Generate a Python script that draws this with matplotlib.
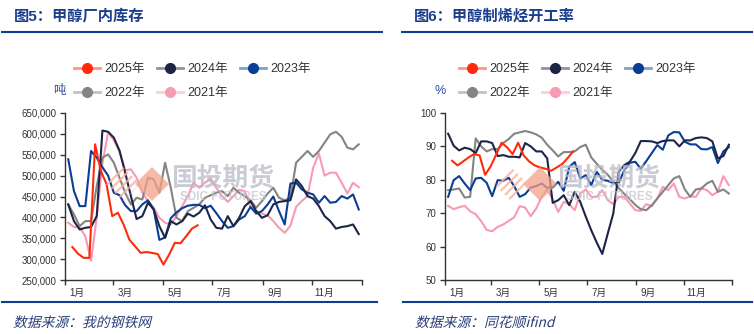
import pandas as pd
import numpy as np
import matplotlib
matplotlib.use("Agg")
import matplotlib.pyplot as plt
import matplotlib.ticker as mticker
from matplotlib.lines import Line2D
from matplotlib.patches import Polygon, PathPatch
from matplotlib.textpath import TextPath
from matplotlib.font_manager import FontProperties
from matplotlib.transforms import Affine2D

plt.rcParams['font.family'] = ['Liberation Sans', 'Noto Sans CJK SC']
plt.rcParams['hatch.linewidth'] = 1.6

W, H = 754, 334

years = ["2025年", "2024年", "2023年", "2022年", "2021年"]
colors = ["#ff2b0c", "#1d2546", "#0a3d94", "#848484", "#f89ab3"]
first_dates = ["2025-01-10", "2024-01-05", "2023-01-05", "2022-01-05", "2021-01-05"]
month_labels = ["1月", "3月", "5月", "7月", "9月", "11月"]

# 甲醇厂内库存, 千吨 (weekly)
inv_2025 = [329, 313, 303, 303, 575, 511, 480, 403, 411, 383, 347, 331, 315, 317, 315,
            312, 287, 311, 339, 338, 355, 373, 381]
inv_2024 = [431, 391, 371, 375, 377, 403, 608, 605, 591, 560, 507, 451, 396, 403, 435,
            419, 379, 351, 391, 383, 391, 409, 402, 411, 429, 395, 375, 373, 403, 379,
            399, 427, 439, 415, 399, 405, 431, 437, 439, 441, 491, 475, 451, 445, 427,
            403, 391, 373, 377, 379, 383, 360]
inv_2023 = [539, 463, 427, 427, 559, 543, 520, 500, 459, 453, 429, 415, 415, 431, 441,
            419, 346, 352, 398, 412, 422, 428, 430, 430, 422, 428, 410, 391, 375, 379,
            395, 403, 425, 409, 415, 431, 450, 415, 383, 481, 483, 467, 459, 455, 435,
            451, 435, 437, 451, 445, 455, 419]
inv_2022 = [431, 407, 379, 391, 391, 475, 543, 551, 531, 495, 459, 431, 447, 443, 495,
            491, 459, 531, 471, 399, 391, 415, 423, 431, 447, 453, 459, 463, 451, 471,
            459, 451, 441, 423, 439, 457, 471, 447, 441, 447, 531, 545, 559, 545, 559,
            579, 599, 605, 593, 567, 563, 575]
inv_2021 = [387, 377, 376, 355, 296, 400, 530, 603, 585, 557, 513, 515, 495, 459, 439,
            423, 399, 387, 383, 403, 427, 451, 483, 471, 483, 493, 471, 451, 437, 451,
            466, 463, 425, 415, 409, 405, 391, 375, 363, 380, 425, 439, 451, 519, 553,
            500, 507, 507, 483, 457, 483, 472]

# 甲醇制烯烃开工率, % (weekly)
rate_2025 = [85.7, 84.3, 85.5, 86.7, 87.7, 87.3, 81.5, 84.0, 87.5, 91.1, 89.7, 87.7,
             91.1, 87.3, 85.5, 84.3, 83.7, 83.3, 82.7, 83.7, 84.7, 86.5, 88.5]
rate_2024 = [93.8, 90.2, 88.8, 89.6, 89.2, 88.0, 91.5, 91.5, 91.0, 87.1, 87.4, 86.9,
             86.9, 86.7, 91.0, 90.0, 88.5, 88.5, 86.4, 73.1, 73.9, 75.4, 72.4, 76.4,
             73.4, 69.0, 64.9, 61.2, 57.8, 63.9, 69.9, 82.4, 84.4, 85.4, 88.0, 91.6,
             91.6, 91.5, 91.0, 91.6, 91.8, 91.8, 90.0, 91.8, 91.8, 92.5, 92.7, 92.5,
             91.5, 86.4, 87.1, 90.5]
rate_2023 = [74.9, 79.9, 81.1, 78.9, 76.9, 80.4, 80.6, 79.1, 75.1, 79.9, 79.7, 80.6,
             78.1, 74.9, 75.7, 77.7, 78.1, 78.9, 77.6, 77.7, 79.4, 76.7, 83.9, 85.3,
             80.4, 81.4, 78.4, 82.4, 80.0, 79.7, 79.0, 79.1, 82.9, 85.1, 85.4, 83.3,
             85.6, 88.0, 90.4, 89.0, 93.3, 94.3, 94.2, 91.4, 90.6, 90.6, 89.2, 89.1,
             89.8, 85.0, 88.5, 89.8]
rate_2022 = [76.9, 77.1, 77.4, 74.7, 74.9, 92.4, 90.0, 88.5, 89.2, 89.2, 91.0, 92.2,
             93.8, 94.2, 94.6, 94.2, 93.6, 92.6, 90.5, 88.8, 87.0, 88.3, 88.3, 88.5,
             89.8, 90.5, 86.7, 84.8, 83.0, 81.5, 79.5, 77.5, 75.8, 74.2, 72.5, 71.2,
             70.9, 72.4, 74.4, 76.4, 78.4, 80.4, 81.1, 77.1, 74.9, 77.1, 77.4, 78.9,
             79.7, 76.4, 77.1, 75.9]
rate_2021 = [72.2, 71.2, 71.8, 72.2, 70.6, 69.7, 67.6, 65.0, 64.6, 65.9, 66.6, 67.7,
             68.8, 72.1, 71.7, 69.1, 71.4, 74.9, 77.1, 74.1, 70.4, 73.4, 72.7, 70.9,
             75.9, 77.1, 74.9, 74.9, 76.9, 73.9, 72.7, 74.9, 74.9, 72.9, 70.9, 70.7,
             72.7, 72.1, 74.4, 77.9, 76.9, 78.9, 74.9, 74.4, 75.1, 74.9, 77.4, 76.9,
             75.4, 76.4, 81.1, 78.4]

inv = [np.array(v) * 1000 for v in (inv_2025, inv_2024, inv_2023, inv_2022, inv_2021)]
rate = [rate_2025, rate_2024, rate_2023, rate_2022, rate_2021]


def fx(x):
    return x / W


def fy(y):
    return 1 - y / H


def lighten(c, amt=0.5):
    rgb = np.array(matplotlib.colors.to_rgb(c))
    return tuple(rgb + (1 - rgb) * amt)


fig = plt.figure(figsize=(W / 100, H / 100), dpi=100)
fig.patch.set_facecolor("white")

ax1 = fig.add_axes([fx(65), fy(280), fx(297), 167 / H])
ax2 = fig.add_axes([fx(445), fy(280), fx(287), 167 / H])

month_start = [pd.Timestamp(2023, m, 1).dayofyear for m in (1, 3, 5, 7, 9, 11)] + [366]
month_mid = [pd.Timestamp(2023, m, 16).dayofyear for m in (1, 3, 5, 7, 9, 11)]


def draw_panel(ax, series, ylim, step, fmt):
    # 2021 first so the current year ends up on top
    for vals, start, c in reversed(list(zip(series, first_dates, colors))):
        d = pd.date_range(start, periods=len(vals), freq="7D")
        ax.plot(d.dayofyear, vals, color=c, lw=1.5, solid_joinstyle="round")
    ax.set_xlim(1, 366)
    ax.set_ylim(*ylim)
    ax.set_yticks(np.arange(ylim[0], ylim[1] + step / 2, step))
    ax.yaxis.set_major_formatter(mticker.StrMethodFormatter(fmt))
    ax.set_xticks(month_start)
    ax.set_xticklabels([])
    ax.set_xticks(month_mid, minor=True)
    ax.set_xticklabels(month_labels, minor=True)
    ax.tick_params(axis="x", which="minor", length=0, pad=6, labelsize=7, colors="#333333")
    ax.tick_params(axis="both", which="major", length=3.5, width=1, color="#333333",
                   labelsize=7, labelcolor="#333333", pad=2.5)
    for s in ("top", "right"):
        ax.spines[s].set_visible(False)
    for s in ("left", "bottom"):
        ax.spines[s].set_color("#333333")
        ax.spines[s].set_linewidth(1)
    ax.set_facecolor("none")


draw_panel(ax1, inv, (250000, 650000), 50000, "{x:,.0f}")
draw_panel(ax2, rate, (50, 100), 10, "{x:.0f}")

# titles, rules and sources
title_blue = "#1b3d8c"
for x, t in ((14, "图5：甲醇厂内库存"), (414, "图6：甲醇制烯烃开工率")):
    fig.text(fx(x), fy(16), t, fontsize=11, fontweight="bold", color=title_blue,
             ha="left", va="center")
for x0, x1 in ((2, 382), (402, 752)):
    fig.add_artist(Line2D([fx(x0), fx(x1)], [fy(32), fy(32)], color="#0c3e94", lw=1.5))
for x0, x1 in ((2, 377), (403, 752)):
    fig.add_artist(Line2D([fx(x0), fx(x1)], [fy(302), fy(302)], color="#0c3e94", lw=1.5))

# source lines in slanted type (CJK fonts have no italic face, so shear the outline)
src_font = FontProperties(family="Noto Sans CJK SC")
for x, t in ((13, "数据来源：我的钢铁网"), (415, "数据来源：同花顺ifind")):
    tp = TextPath((0, 0), t, size=13.8, prop=src_font)
    tr = Affine2D().skew_deg(14, 0).translate(x, H - 327)
    fig.patches.append(PathPatch(tp, transform=tr, facecolor="#2b3f78", lw=0))

fig.text(fx(59), fy(91), "吨", fontsize=9, color="#2f4d9c", ha="center", va="center")
fig.text(fx(440), fy(91), "%", fontsize=9, color="#2f4d9c", ha="center", va="center")

# legends: matplotlib fills columns first, so reorder to read across rows
handles = [Line2D([], [], color=lighten(c), lw=2, marker="o", markersize=7,
                  markerfacecolor=c, markeredgecolor=c) for c in colors]
order = [0, 3, 1, 4, 2]
for x in (74, 459):
    fig.legend([handles[i] for i in order], [years[i] for i in order],
               loc="upper left", bbox_to_anchor=(fx(x), fy(63)),
               ncol=3, frameon=False, fontsize=9, handlelength=2.1, handletextpad=0.35,
               columnspacing=0.95, labelspacing=0.95, borderpad=0, borderaxespad=0,
               labelcolor="#333333")

# company watermark
for cx, tx in ((152, 223), (540, 609)):
    cy = 184
    fig.patches.append(Polygon([(fx(cx - 17), fy(cy)), (fx(cx), fy(cy - 17)),
                                (fx(cx + 17), fy(cy)), (fx(cx), fy(cy + 17))],
                               closed=True, transform=fig.transFigure, facecolor="#f4a287",
                               edgecolor="none", alpha=0.75, zorder=5))
    fig.patches.append(Polygon([(fx(cx - 46), fy(cy)), (fx(cx - 29), fy(cy - 17)),
                                (fx(cx - 12), fy(cy)), (fx(cx - 29), fy(cy + 17))],
                               closed=True, transform=fig.transFigure, facecolor="none",
                               edgecolor="#f7b3a0", lw=0, hatch="////", alpha=0.8, zorder=5))
    fig.text(fx(tx), fy(179), "国投期货", fontsize=18.5, fontweight="bold", color="#b9bac6",
             alpha=0.75, ha="center", va="center", zorder=6)
    fig.text(fx(tx), fy(197), "SDIC FUTURES", fontsize=8.5, fontweight="bold", color="#c5c6d0",
             alpha=0.75, ha="center", va="center", zorder=6)

fig.savefig("out.png", dpi=100, facecolor="white")
